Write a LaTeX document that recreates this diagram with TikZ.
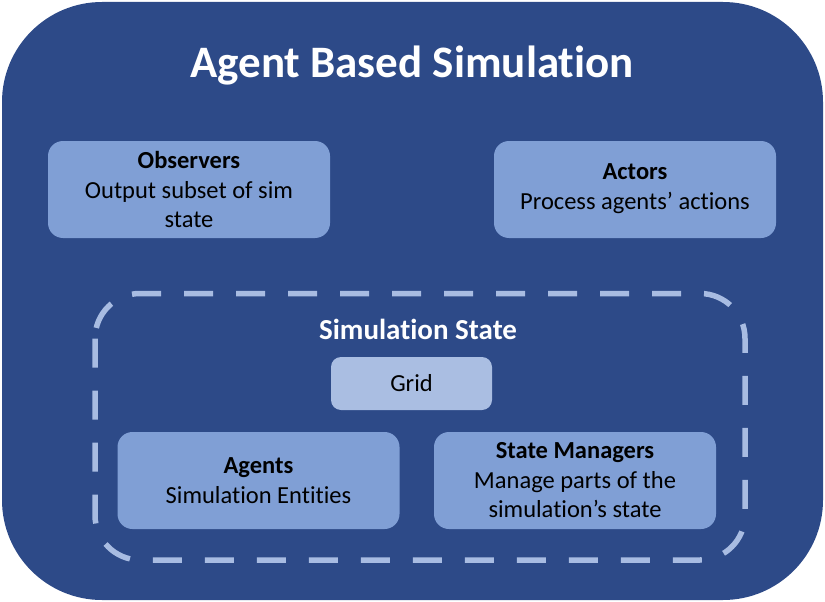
\documentclass[tikz,border=0pt]{standalone}
\usepackage{fontspec}
\setmainfont{Carlito}[Ligatures=NoCommon]
\usetikzlibrary{positioning}

\definecolor{simblue}{RGB}{45,74,136}
\definecolor{partblue}{RGB}{128,159,213}
\definecolor{gridblue}{RGB}{170,190,226}
\definecolor{lineblue}{RGB}{168,188,226}

\tikzset{
  part/.style={fill=partblue, rounded corners=15pt, minimum width=282pt, minimum height=97pt,
    align=center, font=\fontsize{24.5}{29.5}\selectfont, inner sep=0pt},
  heading/.style={text=white, font=\bfseries\fontsize{29}{32}\selectfont},
}

\begin{document}
\begin{tikzpicture}[x=1pt,y=-1pt]
    \useasboundingbox (0,0) rectangle (825,602);
    % outer frame
    \fill[simblue, rounded corners=100pt] (2,2) rectangle (823,600);
    \node[text=white, font=\bfseries\fontsize{45}{48}\selectfont] (title) at (412,66) {Agent Based Simulation};

    \node[part] (observers) at (189,189.5) {\textbf{Observers}\\Output subset of sim\\state};
    \node[part, text depth=6pt] (actors) at (635,189.5) {\textbf{Actors}\\Process agents’ actions};

    % simulation state
    \draw[lineblue, line width=5.5pt, dash pattern=on 29pt off 23pt, rounded corners=45pt] (95,293.5) rectangle (745,560);
    \node[heading] (state) at (418,329) {Simulation State};
    \node[part, fill=gridblue, minimum width=161pt, minimum height=53pt, rounded corners=10pt] (grid) at (411.5,383.5) {Grid};
    \node[part] (agents) at (258.5,480.5) {\textbf{Agents}\\Simulation Entities};
    \node[part] (managers) at (575,480.5) {\textbf{State Managers}\\Manage parts of the\\simulation’s state};
\end{tikzpicture}
\end{document}
